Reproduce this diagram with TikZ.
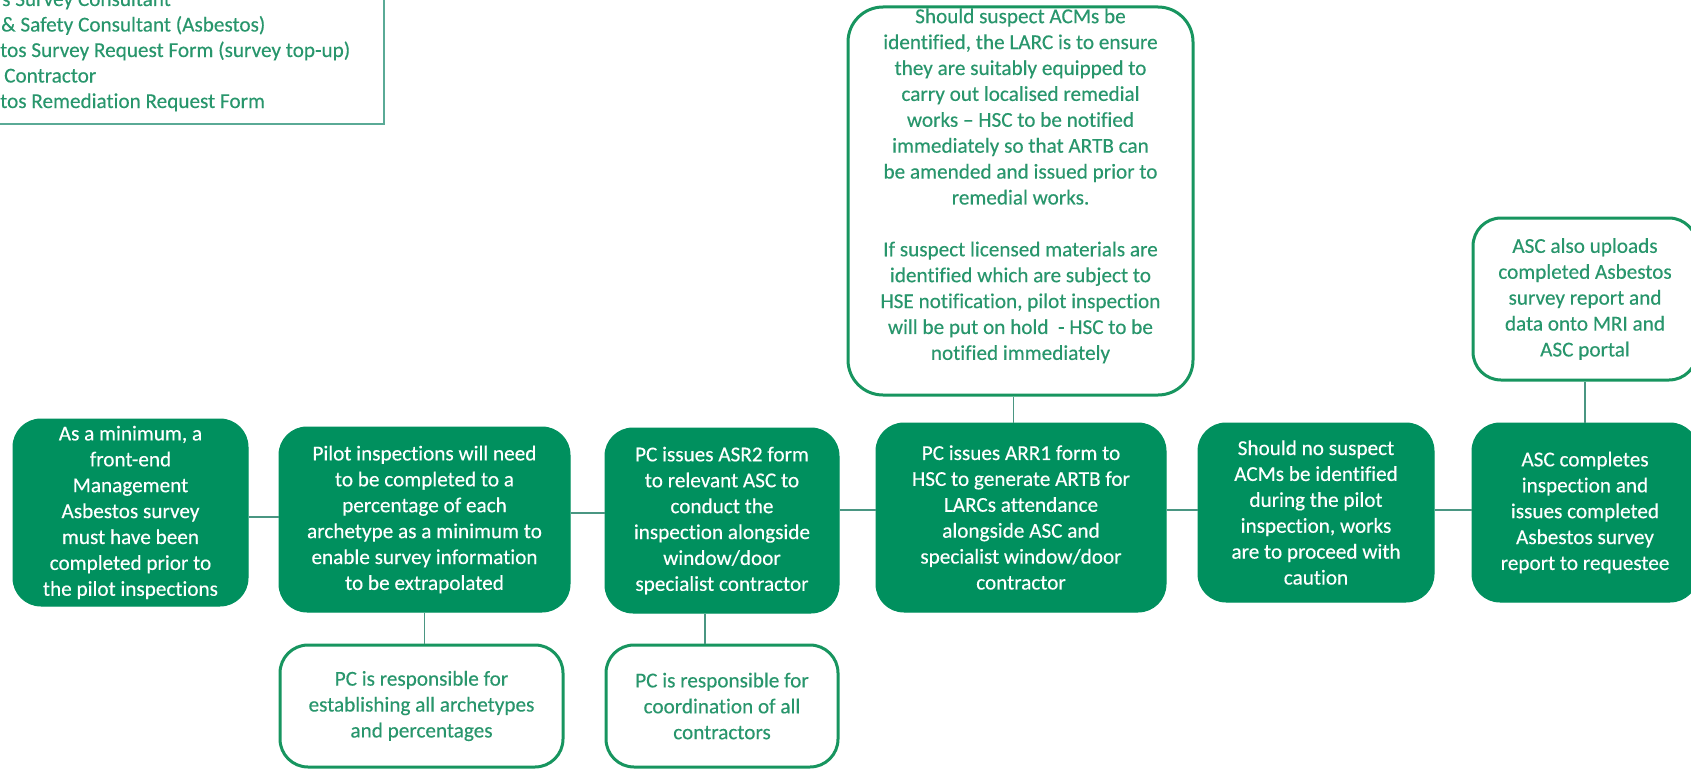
\documentclass[tikz,border=0pt]{standalone}
\usepackage{fontspec}
\setmainfont{Carlito}[Ligatures=NoCommon, UprightFeatures={FakeBold=0.3}]
\definecolor{boxgreen}{HTML}{00905E}
\definecolor{edgegreen}{HTML}{17955F}
\definecolor{notetext}{HTML}{28966C}
\definecolor{linkteal}{HTML}{4A9682}
\definecolor{keyedge}{HTML}{5AAA96}
\begin{document}
\begin{tikzpicture}[x=1pt,y=-1pt,
  every node/.style={inner sep=0pt, align=center, font=\fontsize{21.2}{25.9}\selectfont},
  stage/.style={draw=boxgreen, fill=boxgreen, text=white, line width=1pt, rounded corners=28pt},
  note/.style={draw=edgegreen, fill=white, text=notetext, line width=3pt, rounded corners=28pt},
  link/.style={draw=linkteal, line width=1.8pt},
  keyline/.style={anchor=base west, text=notetext}
]
\useasboundingbox (0,0) rectangle (1691,768);
\clip (0,0) rectangle (1691,768);

% key of abbreviations (top left)
\node[draw=keyedge, line width=1.8pt, minimum width=414pt, minimum height=154pt] (key) at (177,47) {};
\node[keyline] (k1) at (2,6) {s Survey Consultant};
\node[keyline] (k2) at (1,31.5) {\& Safety Consultant (Asbestos)};
\node[keyline] (k3) at (0,57) {tos Survey Request Form (survey top-up)};
\node[keyline] (k4) at (4,82.5) {Contractor};
\node[keyline] (k5) at (0,108) {tos Remediation Request Form};

% main process steps
\node[stage, minimum width=235pt, minimum height=187pt] (b1) at (130.5,512.5)
  {As a minimum, a\\front-end\\Management\\Asbestos survey\\must have been\\completed prior to\\the pilot inspections};
\node[stage, minimum width=291pt, minimum height=185pt] (b2) at (424.5,519.5)
  {Pilot inspections will need\\to be completed to a\\percentage of each\\archetype as a minimum to\\enable survey information\\to be extrapolated};
\node[stage, minimum width=234pt, minimum height=185pt] (b3) at (722,520.5)
  {PC issues ASR2 form\\to relevant ASC to\\conduct the\\inspection alongside\\window/door\\specialist contractor};
\node[stage, minimum width=290pt, minimum height=189pt] (b4) at (1021,517.5)
  {PC issues ARR1 form to\\HSC to generate ARTB for\\LARCs attendance\\alongside ASC and\\specialist window/door\\contractor};
\node[stage, minimum width=236pt, minimum height=179pt] (b5) at (1316,512.5)
  {Should no suspect\\ACMs be identified\\during the pilot\\inspection, works\\are to proceed with\\caution};
\node[stage, minimum width=226pt, minimum height=179pt] (b6) at (1585,512.5)
  {ASC completes\\inspection and\\issues completed\\Asbestos survey\\report to requestee};

% notes attached to the steps
\node[note, minimum width=345pt, minimum height=388pt, rounded corners=35pt] (acm) at (1020.5,201)
  {Should suspect ACMs be\\identified, the LARC is to ensure\\they are suitably equipped to\\carry out localised remedial\\works – HSC to be notified\\immediately so that ARTB can\\be amended and issued prior to\\remedial works.\\[25.9pt]If suspect licensed materials are\\identified which are subject to\\HSE notification, pilot inspection\\will be put on hold\ \ - HSC to be\\notified immediately\\\strut};
\node[note, minimum width=224pt, minimum height=162pt] (upl) at (1585,299)
  {ASC also uploads\\completed Asbestos\\survey report and\\data onto MRI and\\ASC portal};
\node[note, minimum width=283pt, minimum height=122pt] (arch) at (421.5,706)
  {PC is responsible for\\establishing all archetypes\\and percentages};
\node[note, minimum width=232pt, minimum height=122pt] (coord) at (722,706)
  {PC is responsible for\\coordination of all\\contractors};

% connectors along the sequence
\draw[link] ([yshift=-4.5pt]b1.east) -- ([yshift=-4.5pt]b1.east -| b2.west);
\draw[link] ([yshift=6.5pt]b2.east) -- ([yshift=6.5pt]b2.east -| b3.west);
\draw[link] ([yshift=10.5pt]b3.east) -- ([yshift=10.5pt]b3.east -| b4.west);
\draw[link] ([yshift=7.5pt]b4.east) -- ([yshift=7.5pt]b4.east -| b5.west);
\draw[link] ([yshift=2.5pt]b5.east) -- ([yshift=2.5pt]b5.east -| b6.west);

% connectors to the notes
\draw[link] (b2.south) -- (b2.south |- arch.north);
\draw[link] ([xshift=-17pt]b3.south) -- ([xshift=-17pt]b3.south |- coord.north);
\draw[link] ([xshift=-7pt]acm.south) -- ([xshift=-7pt]acm.south |- b4.north);
\draw[link] (upl.south) -- (upl.south |- b6.north);
\end{tikzpicture}
\end{document}
